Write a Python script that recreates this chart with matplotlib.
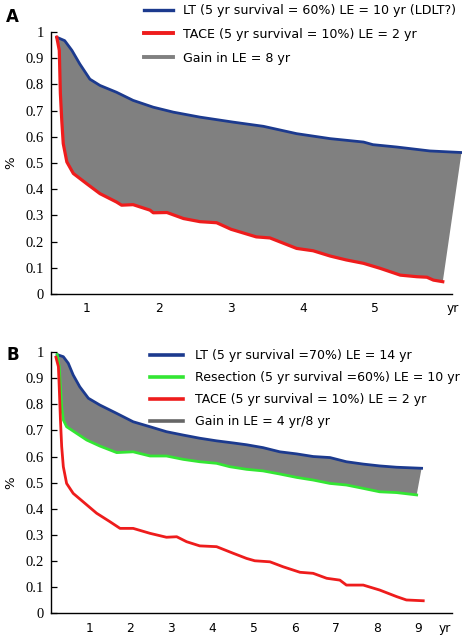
import matplotlib
matplotlib.use("Agg")
import matplotlib.pyplot as plt
from matplotlib.lines import Line2D
import numpy as np

# ---------------- Panel A data ----------------
a_lt_x = [0.58, 0.69, 0.79, 0.90, 1.04, 1.18, 1.41, 1.64, 1.92, 2.20, 2.57, 3.03, 3.45, 3.91, 4.375, 4.84, 4.97, 5.30, 5.76, 6.20]
a_lt_y = [0.98, 0.967, 0.93, 0.878, 0.82, 0.796, 0.77, 0.739, 0.713, 0.694, 0.675, 0.656, 0.64, 0.612, 0.593, 0.58, 0.57, 0.561, 0.546, 0.54]
a_tace_x = [0.58, 0.615, 0.63, 0.65, 0.67, 0.72, 0.81, 1.0, 1.18, 1.41, 1.48, 1.64, 1.875, 1.92, 2.11, 2.34, 2.57, 2.8, 3.0,
            3.35, 3.54, 3.91, 4.14, 4.375, 4.6, 4.84, 5.07, 5.35, 5.58, 5.72, 5.81, 5.94]
a_tace_y = [0.98, 0.93, 0.766, 0.66, 0.574, 0.504, 0.46, 0.42, 0.383, 0.351, 0.339, 0.341, 0.32, 0.31, 0.311, 0.288, 0.276, 0.272, 0.247,
            0.218, 0.214, 0.174, 0.165, 0.145, 0.13, 0.117, 0.098, 0.072, 0.066, 0.064, 0.053, 0.047]
a_labels = ["LT (5 yr survival = 60%) LE = 10 yr (LDLT?)",
            "TACE (5 yr survival = 10%) LE = 2 yr",
            "Gain in LE = 8 yr"]
a_xticks = [1, 2, 3, 4, 5]

# ---------------- Panel B data ----------------
b_lt_x = [0.22, 0.37, 0.49, 0.61, 0.77, 0.98, 1.26, 1.67, 2.07, 2.48, 2.88, 3.29, 3.69, 4.1, 4.5, 4.83, 5.23, 5.64, 6.05, 6.45, 6.86, 7.26, 7.67, 8.07, 8.48, 9.09]
b_lt_y = [0.99, 0.982, 0.957, 0.912, 0.867, 0.823, 0.797, 0.765, 0.733, 0.714, 0.695, 0.682, 0.67, 0.66, 0.652, 0.645, 0.634, 0.618, 0.61, 0.60, 0.596, 0.58, 0.571, 0.564, 0.559, 0.555]
b_res_x = [0.22, 0.27, 0.30, 0.33, 0.37, 0.45, 0.69, 0.94, 1.26, 1.67, 2.07, 2.48, 2.88, 3.29, 3.69, 4.1, 4.42, 4.83, 5.23, 5.64, 6.05, 6.45, 6.86, 7.26, 7.67, 8.07, 8.48, 8.97]
b_res_y = [0.99, 0.944, 0.867, 0.79, 0.74, 0.714, 0.689, 0.663, 0.64, 0.615, 0.618, 0.602, 0.602, 0.589, 0.58, 0.574, 0.561, 0.551, 0.545, 0.533, 0.52, 0.51, 0.497, 0.491, 0.478, 0.465, 0.462, 0.453]
b_tace_x = [0.19, 0.25, 0.27, 0.30, 0.33, 0.37, 0.45, 0.61, 0.85, 1.18, 1.5, 1.75, 2.07, 2.48, 2.88, 3.13, 3.37, 3.69, 4.1, 4.5,
            4.83, 5.03, 5.4, 5.72, 6.13, 6.45, 6.78, 7.1, 7.26, 7.67, 8.07, 8.48, 8.72, 9.13]
b_tace_y = [0.98, 0.944, 0.867, 0.74, 0.638, 0.561, 0.497, 0.459, 0.427, 0.383, 0.351, 0.325, 0.325, 0.306, 0.291, 0.293, 0.274, 0.258, 0.255, 0.23,
            0.21, 0.201, 0.197, 0.178, 0.157, 0.153, 0.134, 0.127, 0.108, 0.108, 0.089, 0.064, 0.051, 0.048]
b_labels = ["LT (5 yr survival =70%) LE = 14 yr",
            "Resection (5 yr survival =60%) LE = 10 yr",
            "TACE (5 yr survival = 10%) LE = 2 yr",
            "Gain in LE = 4 yr/8 yr"]
b_xticks = [1, 2, 3, 4, 5, 6, 7, 8, 9]

yticks = [0, 0.1, 0.2, 0.3, 0.4, 0.5, 0.6, 0.7, 0.8, 0.9, 1]
ytick_labels = ["0", "0.1", "0.2", "0.3", "0.4", "0.5", "0.6", "0.7", "0.8", "0.9", "1"]

BLUE = "#1c3a8e"
RED = "#ee1c1c"
GREEN = "#33e633"
GRAY = "#808080"

W, H = 472, 642
fig = plt.figure(figsize=(W / 100, H / 100), dpi=100)

def px_axes(left, right, top, bottom):
    return fig.add_axes([left / W, 1 - bottom / H, (right - left) / W, (bottom - top) / H])

def style(ax, xlim, spine_end, xticks, yr_pos):
    ax.set_ylim(0, 1)
    ax.set_xlim(*xlim)
    for s in ["top", "right"]:
        ax.spines[s].set_visible(False)
    ax.spines["bottom"].set_bounds(xlim[0], spine_end)
    ax.spines["left"].set_linewidth(1.0)
    ax.spines["bottom"].set_linewidth(1.0)
    ax.set_yticks(yticks)
    ax.set_yticklabels(ytick_labels, family="Liberation Serif", fontsize=10.5)
    ax.tick_params(axis="y", direction="in", length=4, width=0.9, pad=5)
    ax.set_xticks(xticks + [yr_pos])
    ax.set_xticklabels([str(t) for t in xticks] + ["yr"], family="DejaVu Sans", fontsize=8.8)
    ax.tick_params(axis="x", length=0, pad=6)
    ax.set_ylabel("%", family="DejaVu Sans", fontsize=9.5, labelpad=6)

# ---------- Panel A ----------
axA = px_axes(51, 461.5, 32, 294)
axA.fill(np.concatenate([a_lt_x, a_tace_x[::-1]]), np.concatenate([a_lt_y, a_tace_y[::-1]]),
         color=GRAY, lw=0, zorder=1)
axA.plot(a_lt_x, a_lt_y, color=BLUE, lw=2.0, zorder=3)
axA.plot(a_tace_x, a_tace_y, color=RED, lw=2.3, zorder=3)
style(axA, (0.5, 6.2), 6.07, a_xticks, 6.08)
hA = [Line2D([], [], color=BLUE, lw=2.4), Line2D([], [], color=RED, lw=2.8), Line2D([], [], color=GRAY, lw=2.8)]
fig.legend(hA, a_labels, loc="upper left", bbox_to_anchor=(144 / W, 1 - 4 / H), frameon=False,
           prop={"family": "DejaVu Sans", "size": 9.1}, handlelength=2.3, handletextpad=0.8,
           labelspacing=0.86, borderpad=0, borderaxespad=0)
fig.text(6 / W, 1 - 17 / H, "A", fontsize=12, fontweight="bold", family="DejaVu Sans", va="center")

# ---------- Panel B ----------
axB = px_axes(51, 452, 352, 613.3)
axB.fill(np.concatenate([b_lt_x, b_res_x[::-1]]), np.concatenate([b_lt_y, b_res_y[::-1]]),
         color=GRAY, lw=0, zorder=1)
axB.plot(b_lt_x, b_lt_y, color=BLUE, lw=2.0, zorder=3)
axB.plot(b_res_x, b_res_y, color=GREEN, lw=2.0, zorder=3)
axB.plot(b_tace_x, b_tace_y, color=RED, lw=2.0, zorder=3)
style(axB, (0.07, 9.83), 9.83, b_xticks, 9.65)
hB = [Line2D([], [], color=BLUE, lw=2.6), Line2D([], [], color=GREEN, lw=2.6),
      Line2D([], [], color=RED, lw=2.6), Line2D([], [], color="#666666", lw=2.6)]
fig.legend(hB, b_labels, loc="upper left", bbox_to_anchor=(150 / W, 1 - 349 / H), frameon=False,
           prop={"family": "DejaVu Sans", "size": 9.0}, handlelength=2.6, handletextpad=1.0,
           labelspacing=0.72, borderpad=0, borderaxespad=0)
fig.text(6 / W, 1 - 355 / H, "B", fontsize=12, fontweight="bold", family="DejaVu Sans", va="center")

fig.savefig("out.png", dpi=100)
